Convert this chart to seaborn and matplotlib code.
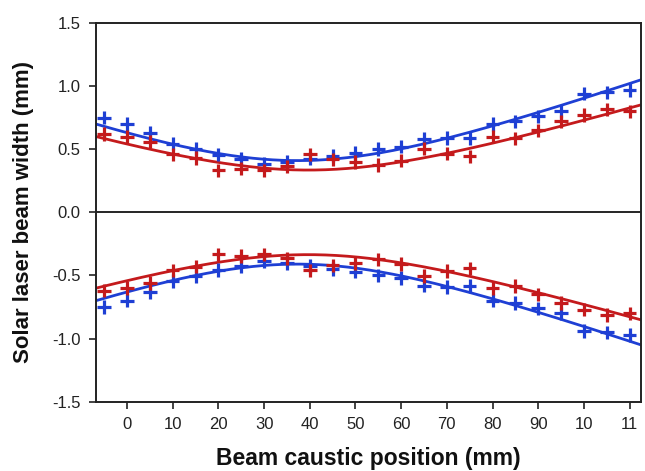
import numpy as np
import pandas as pd
import matplotlib
matplotlib.use("Agg")
import matplotlib.pyplot as plt
import seaborn as sns

# Caustic positions (mm) of the measured points
position = [-5, 0, 5, 10, 15, 20, 25, 30, 35, 40, 45, 50,
            55, 60, 65, 70, 75, 80, 85, 90, 95, 100, 105, 110]

# Measured half-widths (mm) along the two transverse axes
width_blue = [0.75, 0.70, 0.63, 0.545, 0.505, 0.458, 0.426, 0.386, 0.40, 0.426, 0.45, 0.47,
              0.50, 0.52, 0.58, 0.59, 0.585, 0.70, 0.72, 0.76, 0.80, 0.94, 0.95, 0.97]
width_red = [0.62, 0.60, 0.56, 0.46, 0.43, 0.333, 0.347, 0.333, 0.365, 0.46, 0.42, 0.40,
             0.373, 0.41, 0.505, 0.466, 0.444, 0.60, 0.585, 0.65, 0.72, 0.77, 0.815, 0.80]

# Hyperbolic caustic model w(z) = w0 * sqrt(1 + ((z - z0) / zR)^2)
# parameters per beam: waist w0 (mm), waist position z0 (mm), Rayleigh length zR (mm)
fit_blue = (0.41, 37.3, 31.9)
fit_red = (0.335, 39.6, 31.2)

xtick_values = [0, 10, 20, 30, 40, 50, 60, 70, 80, 90, 100, 110]
xtick_labels = ["0", "10", "20", "30", "40", "50", "60", "70", "80", "90", "10", "11"]
ytick_values = [-1.5, -1.0, -0.5, 0.0, 0.5, 1.0, 1.5]
ytick_labels = ["-1.5", "-1.0", "-0.5", "0.0", "0.5", "1.0", "1.5"]

BLUE = "#1e3fd4"
RED = "#c41a1c"
XMIN, XMAX = -6.8, 112.5

sns.set_theme(style="white")
plt.rcParams["font.family"] = ["Liberation Sans", "DejaVu Sans"]

# Points: upper envelope (+w) and lower envelope (-w)
rows = []
for name, w in (("blue", width_blue), ("red", width_red)):
    for z, v in zip(position, w):
        rows.append({"z": z, "w": v, "beam": name, "side": "upper"})
        rows.append({"z": z, "w": -v, "beam": name, "side": "lower"})
points = pd.DataFrame(rows)

# Fitted caustic envelopes
zfit = np.linspace(XMIN, XMAX, 300)
fit_rows = []
for name, (w0, z0, zr) in (("blue", fit_blue), ("red", fit_red)):
    wf = w0 * np.sqrt(1.0 + ((zfit - z0) / zr) ** 2)
    for z, v in zip(zfit, wf):
        fit_rows.append({"z": z, "w": v, "beam": name, "side": "upper"})
        fit_rows.append({"z": z, "w": -v, "beam": name, "side": "lower"})
fits = pd.DataFrame(fit_rows)

palette = {"blue": BLUE, "red": RED}

fig = plt.figure(figsize=(6.45, 4.71), dpi=100)
ax = fig.add_axes([0.1488, 0.1471, 0.845, 0.8041])

sns.lineplot(data=fits, x="z", y="w", hue="beam", units="side", estimator=None,
             palette=palette, linewidth=2.0, legend=False, ax=ax, sort=False)
sns.scatterplot(data=points, x="z", y="w", hue="beam", palette=palette,
                marker="+", s=95, linewidth=2.3, legend=False, ax=ax, zorder=3)

ax.axhline(0, color="black", linewidth=1.2, zorder=1)

ax.set_xlim(XMIN, XMAX)
ax.set_ylim(-1.5, 1.5)
ax.set_xticks(xtick_values)
ax.set_xticklabels(xtick_labels)
ax.set_yticks(ytick_values)
ax.set_yticklabels(ytick_labels)
ax.tick_params(axis="both", direction="out", length=5, width=1.2, color="#222222",
               labelsize=12, labelcolor="#222222", bottom=True, left=True, pad=6)

for side in ("left", "bottom", "top", "right"):
    ax.spines[side].set_visible(True)
    ax.spines[side].set_color("#222222")
    ax.spines[side].set_linewidth(1.4)

ax.set_xlabel("Beam caustic position (mm)", fontsize=16.5, fontweight="bold",
              color="#111111", labelpad=11)
ax.set_ylabel("Solar laser beam width (mm)", fontsize=16, fontweight="bold",
              color="#111111", labelpad=13)

fig.savefig("out.png", dpi=100)
